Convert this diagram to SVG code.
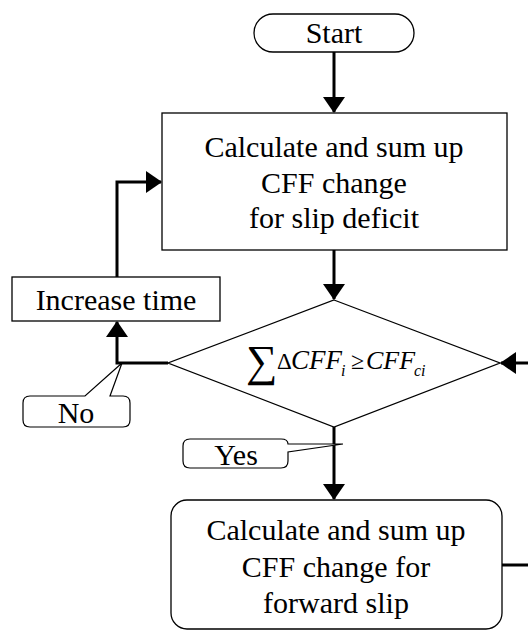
<svg xmlns="http://www.w3.org/2000/svg" width="528" height="630" viewBox="0 0 528 630">
<style>
.shape{fill:#fff;stroke:#000;stroke-width:1.3}
.conn{fill:none;stroke:#000;stroke-width:3}
.thin{fill:#fff;stroke:#000;stroke-width:1.2}
.t{font-family:"Liberation Serif","Times New Roman",serif;font-size:30px;fill:#000;text-anchor:middle}
.m{font-family:"Liberation Serif","Times New Roman",serif;fill:#000}
</style>
<defs>
<marker id="arr" markerUnits="userSpaceOnUse" markerWidth="16" markerHeight="22" viewBox="0 0 16 22" refX="15" refY="11" orient="auto">
<path d="M0,0 L16,11 L0,22 Z" fill="#000"/>
</marker>
</defs>
<rect width="528" height="630" fill="#fff"/>
<g id="connectors">
<path class="conn" d="M334 52 V112" marker-end="url(#arr)"/>
<path class="conn" d="M334 250 V299" marker-end="url(#arr)"/>
<path class="conn" d="M168 363 H117 V322" marker-end="url(#arr)"/>
<path class="conn" d="M117 277 V182 H161" marker-end="url(#arr)"/>
<path class="conn" d="M334 427 V499" marker-end="url(#arr)"/>
<path class="conn" d="M502 565 H528"/>
<path class="conn" d="M528 363 H501" marker-end="url(#arr)"/>
</g>
<g id="start">
<rect class="shape" x="254" y="14" width="160" height="38" rx="19"/>
<text class="t" x="334" y="43">Start</text>
</g>
<g id="calc-deficit">
<rect class="shape" x="162" y="113" width="345" height="137"/>
<text class="t" x="334" y="157">Calculate and sum up</text>
<text class="t" x="334" y="193">CFF change</text>
<text class="t" x="334" y="228">for slip deficit</text>
</g>
<g id="increase-time">
<rect class="shape" x="12" y="277" width="208" height="44"/>
<text class="t" x="116" y="310">Increase time</text>
</g>
<g id="decision">
<polygon class="shape" points="334,300 500,363 334,427 168,363"/>
<text class="m"><tspan x="246" y="376" font-size="44">∑</tspan><tspan x="277" y="369" font-size="23">Δ</tspan><tspan x="291" y="369" font-style="italic" font-size="27">CFF</tspan><tspan x="341" y="376" font-style="italic" font-size="16">i</tspan><tspan x="351" y="369" font-size="24">≥</tspan><tspan x="366" y="369" font-style="italic" font-size="26">CFF</tspan><tspan x="414" y="376" font-style="italic" font-size="16">ci</tspan></text>
</g>
<g id="calc-forward">
<rect class="shape" x="171" y="500" width="331" height="129" rx="16"/>
<text class="t" x="336" y="540">Calculate and sum up</text>
<text class="t" x="336" y="577">CFF change for</text>
<text class="t" x="336" y="613">forward slip</text>
</g>
<g id="label-no">
<path class="thin" d="M30 396 H85 L122 363 L110 396 H123 Q130 396 130 403 V420 Q130 427 123 427 H30 Q23 427 23 420 V403 Q23 396 30 396 Z"/>
<text class="t" x="76" y="423">No</text>
</g>
<g id="label-yes">
<path class="thin" d="M190 439 H281 Q288 439 288 444 L343 444 L288 452 V461 Q288 468 281 468 H190 Q183 468 183 461 V446 Q183 439 190 439 Z"/>
<text class="t" x="236" y="465">Yes</text>
</g>
</svg>
